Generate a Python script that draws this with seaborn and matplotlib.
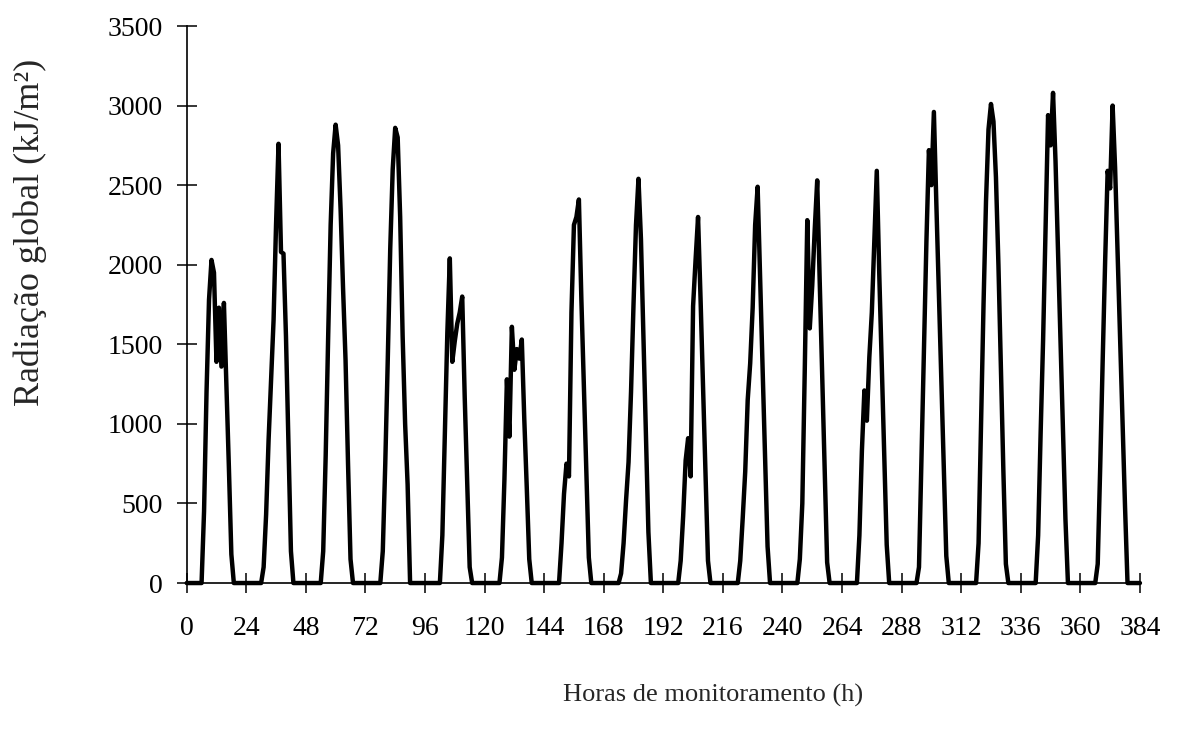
import numpy as np
import pandas as pd
import seaborn as sns
import matplotlib.pyplot as plt

# Hourly global radiation (kJ/m²), one list of 24 hourly values per day
day01 = [0, 0, 0, 0, 0, 0, 0, 450, 1200, 1780, 2030, 1950, 1390, 1730, 1360, 1760, 1250, 730, 180, 0, 0, 0, 0, 0]
day02 = [0, 0, 0, 0, 0, 0, 0, 100, 430, 900, 1280, 1650, 2250, 2760, 2080, 2070, 1550, 870, 200, 0, 0, 0, 0, 0]
day03 = [0, 0, 0, 0, 0, 0, 0, 200, 800, 1550, 2250, 2700, 2880, 2750, 2350, 1850, 1400, 750, 150, 0, 0, 0, 0, 0]
day04 = [0, 0, 0, 0, 0, 0, 0, 200, 750, 1400, 2100, 2600, 2860, 2800, 2300, 1550, 1000, 620, 0, 0, 0, 0, 0, 0]
day05 = [0, 0, 0, 0, 0, 0, 0, 300, 940, 1570, 2040, 1390, 1520, 1630, 1700, 1800, 1170, 630, 100, 0, 0, 0, 0, 0]
day06 = [0, 0, 0, 0, 0, 0, 0, 160, 650, 1280, 920, 1610, 1340, 1470, 1410, 1530, 1030, 600, 150, 0, 0, 0, 0, 0]
day07 = [0, 0, 0, 0, 0, 0, 0, 250, 560, 750, 670, 1700, 2250, 2300, 2410, 1780, 1240, 700, 160, 0, 0, 0, 0, 0]
day08 = [0, 0, 0, 0, 0, 0, 0, 60, 250, 520, 760, 1200, 1750, 2250, 2540, 2160, 1550, 930, 320, 0, 0, 0, 0, 0]
day09 = [0, 0, 0, 0, 0, 0, 0, 140, 420, 770, 910, 670, 1740, 2030, 2300, 1790, 1240, 690, 140, 0, 0, 0, 0, 0]
day10 = [0, 0, 0, 0, 0, 0, 0, 140, 410, 700, 1150, 1380, 1730, 2250, 2490, 1910, 1350, 790, 230, 0, 0, 0, 0, 0]
day11 = [0, 0, 0, 0, 0, 0, 0, 150, 500, 1350, 2280, 1600, 1870, 2220, 2530, 1900, 1310, 720, 130, 0, 0, 0, 0, 0]
day12 = [0, 0, 0, 0, 0, 0, 0, 300, 830, 1210, 1020, 1420, 1700, 2150, 2590, 1940, 1380, 800, 240, 0, 0, 0, 0, 0]
day13 = [0, 0, 0, 0, 0, 0, 0, 100, 780, 1480, 2150, 2720, 2500, 2960, 2380, 1830, 1280, 730, 170, 0, 0, 0, 0, 0]
day14 = [0, 0, 0, 0, 0, 0, 0, 250, 1000, 1750, 2400, 2850, 3010, 2900, 2550, 2000, 1350, 700, 120, 0, 0, 0, 0, 0]
day15 = [0, 0, 0, 0, 0, 0, 0, 300, 940, 1530, 2240, 2940, 2750, 3080, 2650, 2090, 1530, 960, 400, 0, 0, 0, 0, 0]
day16 = [0, 0, 0, 0, 0, 0, 0, 120, 730, 1400, 2030, 2590, 2480, 3000, 2610, 2080, 1550, 1010, 480, 0, 0, 0, 0, 0]
final_hour = [0]

x_ticks = list(range(0, 385, 24))
y_ticks = list(range(0, 3501, 500))
x_label = "Horas de monitoramento (h)"
y_label = "Radiação global (kJ/m²)"

days = [day01, day02, day03, day04, day05, day06, day07, day08,
        day09, day10, day11, day12, day13, day14, day15, day16]
values = [v for d in days for v in d] + final_hour
df = pd.DataFrame({"hora": np.arange(len(values)), "rad": values})

sns.set_theme(style="ticks")
plt.rcParams["font.family"] = ["Liberation Serif", "DejaVu Serif"]

fig = plt.figure(figsize=(11.77, 7.43), dpi=100)
ax = fig.add_axes([0.1586, 0.2153, 0.8099, 0.7497])
sns.lineplot(data=df, x="hora", y="rad", color="black", linewidth=3.2, ax=ax)
for ln in ax.lines:
    ln.set_clip_on(False)
    ln.set_solid_joinstyle("round")
    ln.set_solid_capstyle("round")

ax.set_xlim(0, 384)
ax.set_ylim(0, 3500)
ax.set_xticks(x_ticks)
ax.set_yticks(y_ticks)
sns.despine(ax=ax)
for s in ("left", "bottom"):
    ax.spines[s].set_linewidth(1.2)
    ax.spines[s].set_color("black")
ax.tick_params(direction="inout", length=14, width=1.1, colors="black", labelsize=20)
ax.tick_params(axis="x", pad=17)
ax.tick_params(axis="y", pad=10)
ax.set_xlabel("")
ax.set_ylabel("")

fig.text(713 / 1177, 1 - 695 / 743, x_label, ha="center", va="center", fontsize=19)
fig.text(30 / 1177, 1 - 232 / 743, y_label, ha="center", va="center", rotation=90, fontsize=26)

fig.savefig("out.png", dpi=100)
